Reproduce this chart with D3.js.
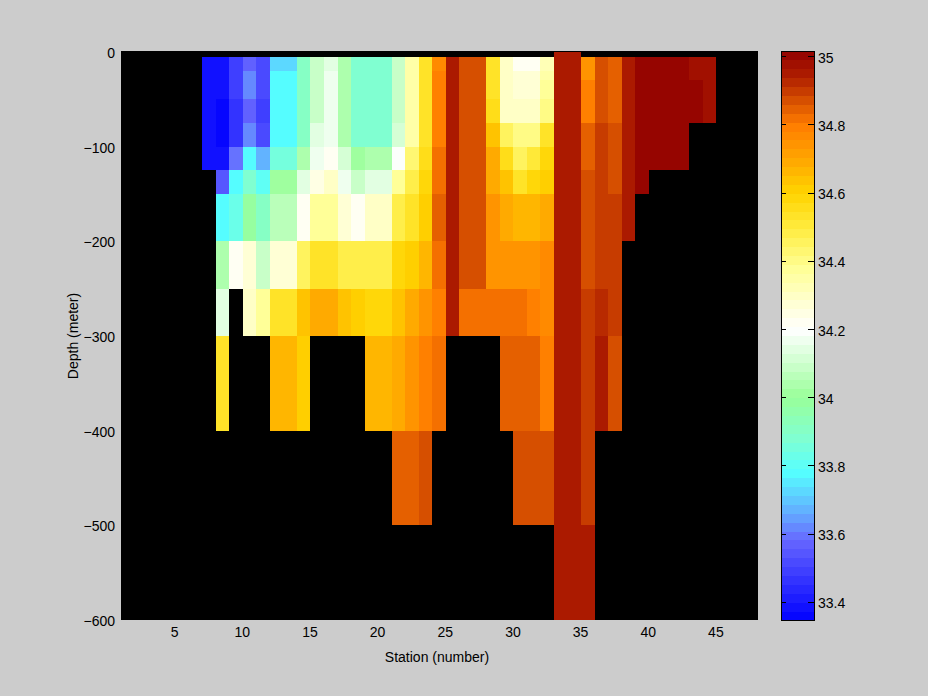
<!DOCTYPE html>
<html><head><meta charset="utf-8">
<script src="https://cdn.jsdelivr.net/npm/d3@7/dist/d3.min.js"></script>
<style>html,body{margin:0;padding:0;background:#ccc}svg{display:block}text{font-family:"Liberation Sans",sans-serif;font-size:14px;fill:#000}</style>
</head><body><svg id="c" width="928" height="696"></svg>
<script>
const _ = null;
// depth edges of the rows (metres, negative downwards)
const depthEdges = [0,-5,-20,-30,-50,-75,-100,-125,-150,-200,-250,-300,-400,-500,-600];
const xTicks = [5,10,15,20,25,30,35,40,45];
const yTicks = [0,-100,-200,-300,-400,-500,-600];
const cbTicks = [33.4,33.6,33.8,34,34.2,34.4,34.6,34.8,35];
const firstStation = 7;
// one list per station (7 to 44), one value per depth row
const salinity = [
/* 7*/[_,33.385,33.385,33.385,33.385,33.385,33.385],
/* 8*/[_,33.39,33.39,33.39,33.36,33.35,33.395,33.55,33.77,34.03,34.14,34.53],
/* 9*/[_,33.50,33.50,33.50,33.47,33.47,33.60,33.77,33.83,34.22],
/*10*/[_,33.57,33.61,33.61,33.57,33.61,33.77,33.87,33.99,34.27,34.31],
/*11*/[_,33.51,33.51,33.51,33.49,33.52,33.67,33.81,33.92,34.10,34.37],
/*12*/[_,33.73,33.77,33.77,33.77,33.77,33.85,34.00,34.07,34.27,34.52,34.67],
/*13*/[_,33.73,33.77,33.77,33.77,33.77,33.85,34.00,34.07,34.27,34.52,34.67],
/*14*/[_,33.92,33.92,33.92,33.92,33.92,34.03,34.14,34.22,34.46,34.65,34.62],
/*15*/[_,34.08,34.08,34.08,34.09,34.13,34.18,34.24,34.37,34.54,34.70],
/*16*/[_,34.14,34.18,34.18,34.18,34.18,34.23,34.29,34.38,34.54,34.70],
/*17*/[_,34.03,34.03,34.03,34.03,34.05,34.11,34.18,34.26,34.49,34.65],
/*18*/[_,33.87,33.88,33.88,33.88,33.88,34.01,34.09,34.22,34.47,34.62],
/*19*/[_,33.87,33.87,33.87,33.87,33.87,34.04,34.14,34.30,34.47,34.58,34.67],
/*20*/[_,33.87,33.87,33.87,33.87,33.87,34.04,34.14,34.30,34.47,34.58,34.67],
/*21*/[_,34.08,34.08,34.08,34.08,34.12,34.20,34.37,34.48,34.58,34.64,34.69,34.84],
/*22*/[_,34.36,34.36,34.36,34.36,34.36,34.42,34.49,34.54,34.61,34.69,34.75,34.84],
/*23*/[_,34.52,34.53,34.53,34.53,34.53,34.55,34.58,34.61,34.67,34.74,34.79,34.87],
/*24*/[_,34.76,34.80,34.80,34.80,34.80,34.82,34.81,34.84,34.81,34.79,34.81],
/*25*/[_,34.94,34.94,34.94,34.94,34.94,34.94,34.94,34.94,34.94,34.94],
/*26*/[_,34.87,34.87,34.87,34.87,34.87,34.87,34.87,34.87,34.87,34.81],
/*27*/[_,34.87,34.87,34.87,34.87,34.87,34.87,34.87,34.87,34.87,34.81],
/*28*/[_,34.54,34.54,34.54,34.56,34.63,34.70,34.70,34.75,34.75,34.81],
/*29*/[_,34.29,34.29,34.29,34.29,34.45,34.55,34.64,34.68,34.75,34.81,34.84],
/*30*/[_,34.23,34.26,34.26,34.29,34.41,34.46,34.54,34.66,34.75,34.81,34.84,34.87],
/*31*/[_,34.21,34.26,34.26,34.29,34.41,34.51,34.59,34.66,34.73,34.79,34.84,34.87],
/*32*/[_,34.32,34.34,34.38,34.40,34.52,34.58,34.62,34.69,34.77,34.76,34.79,34.87],
/*33*/[34.94,34.94,34.94,34.94,34.94,34.94,34.94,34.94,34.94,34.94,34.94,34.94,34.94,34.94],
/*34*/[34.94,34.94,34.94,34.94,34.94,34.94,34.94,34.94,34.94,34.94,34.94,34.94,34.94,34.94],
/*35*/[_,34.75,34.75,34.79,34.79,34.84,34.84,34.86,34.86,34.86,34.90,34.90,34.90,34.94],
/*36*/[_,34.87,34.87,34.87,34.87,34.90,34.90,34.90,34.90,34.90,34.92,34.94],
/*37*/[_,34.84,34.84,34.84,34.84,34.87,34.87,34.87,34.90,34.90,34.90,34.87],
/*38*/[_,34.94,34.94,34.94,34.94,34.94,34.94,34.94,34.94],
/*39*/[_,35.00,35.00,35.00,35.00,35.00,35.00,35.00],
/*40*/[_,35.00,35.00,35.00,35.00,35.00,35.00],
/*41*/[_,35.00,35.00,35.00,35.00,35.00,35.00],
/*42*/[_,35.00,35.00,35.00,35.00,35.00,35.00],
/*43*/[_,34.97,34.97,35.00,35.00],
/*44*/[_,34.97,34.97,34.97,34.97]
];
// colour map: anchor values and colours, quantised into 64 bands
const cmapValues = [33.347,33.58,33.66,33.78,33.88,34.0,34.1,34.2,34.38,34.5,34.6,34.7,34.8,34.87,34.94,35.015];
const cmapColors = ["#0000ff","#6666ff","#64aaff","#55ffff","#80ffd2","#99ff99","#cdffcd","#ffffff","#ffff96","#ffeb3c","#ffd400","#ffa500","#ff7d00","#d75000","#af1e00","#910000"];
const nBands = 64, cMin = 33.347, cMax = 35.015;

const svg = d3.select("#c");
const x = d3.scaleLinear().domain([1,48]).range([121,757]);
const y = d3.scaleLinear().domain([0,-600]).range([52,620]);
const cmap = d3.scaleLinear().domain(cmapValues).range(cmapColors).interpolate(d3.interpolateRgb);
const band = d3.scaleQuantize().domain([cMin,cMax]).range(d3.range(nBands));
const bandColor = i => cmap(cMin + (i+0.5)*(cMax-cMin)/nBands);
const color = v => bandColor(band(v));

// plot area
svg.append("rect").attr("x",121).attr("y",51).attr("width",637).attr("height",569).attr("fill","#000");
const cells = salinity.flatMap((col,ci)=>col.map((v,ri)=>({v,ci,ri})).filter(d=>d.v!==null));
svg.append("g").attr("shape-rendering","crispEdges").selectAll("rect").data(cells).join("rect")
  .attr("x",d=>x(firstStation+d.ci))
  .attr("width",d=>x(firstStation+d.ci+1)-x(firstStation+d.ci))
  .attr("y",d=>y(depthEdges[d.ri]))
  .attr("height",d=>y(depthEdges[d.ri+1])-y(depthEdges[d.ri]))
  .attr("fill",d=>color(d.v));

// axes
const gx = svg.append("g").attr("transform","translate(-1,620)")
  .call(d3.axisBottom(x).tickValues(xTicks).tickSize(0).tickPadding(7));
const gy = svg.append("g").attr("transform","translate(121,1)")
  .call(d3.axisLeft(y).tickValues(yTicks).tickFormat(d3.format("d")).tickSize(0).tickPadding(6));
[gx,gy].forEach(g=>{g.select(".domain").remove();g.selectAll("text").style("font-family",'"Liberation Sans",sans-serif').style("font-size","14px");});
svg.append("text").attr("x",437).attr("y",662).attr("text-anchor","middle").text("Station (number)");
svg.append("text").attr("transform","translate(78,336) rotate(-90)").attr("text-anchor","middle").text("Depth (meter)");

// colour bar
const cy = d3.scaleLinear().domain([cMin,cMax]).range([620,51]);
svg.append("g").attr("shape-rendering","crispEdges").selectAll("rect").data(d3.range(nBands)).join("rect")
  .attr("x",782).attr("width",32)
  .attr("y",i=>cy(cMin+(i+1)*(cMax-cMin)/nBands))
  .attr("height",i=>cy(cMin+i*(cMax-cMin)/nBands)-cy(cMin+(i+1)*(cMax-cMin)/nBands)+0.5)
  .attr("fill",bandColor);
svg.append("rect").attr("x",781.5).attr("y",51.5).attr("width",33).attr("height",569).attr("fill","none").attr("stroke","#000").attr("shape-rendering","crispEdges");
const cb = svg.append("g");
cb.selectAll("path").data(cbTicks).join("path")
  .attr("d",d=>`M782,${Math.round(cy(d))+.5}h4M808,${Math.round(cy(d))+.5}h6`)
  .attr("stroke","#000").attr("shape-rendering","crispEdges");
cb.selectAll("text").data(cbTicks).join("text")
  .attr("x",818).attr("y",d=>cy(d)+6.5).text(d=>d3.format("~g")(d));
</script></body></html>
